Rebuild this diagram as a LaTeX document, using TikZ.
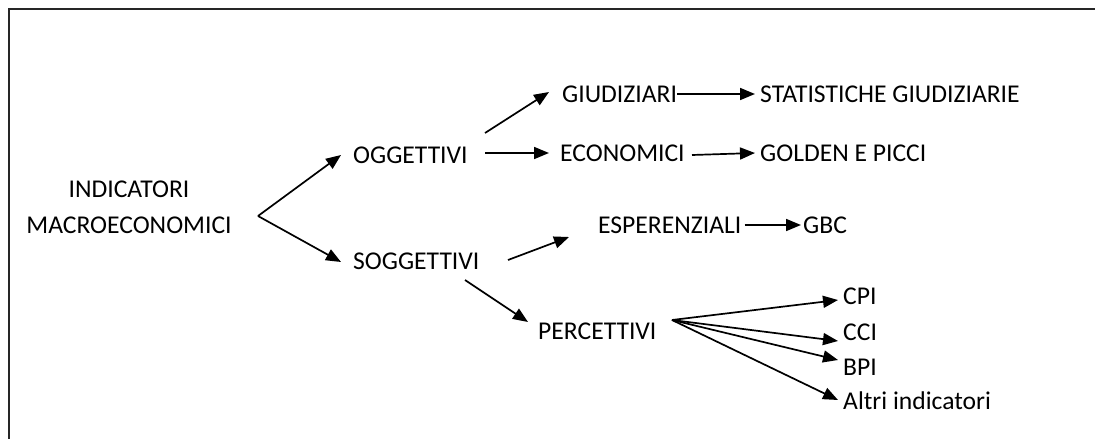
\documentclass[tikz,border=0pt]{standalone}
\usepackage{fontspec}
\setmainfont{Carlito}
\usetikzlibrary{arrows.meta,calc}
\begin{document}
\begin{tikzpicture}[x=1pt,y=-1pt,
  lab/.style={anchor=west,inner sep=0pt,font=\fontsize{25.6}{36}\selectfont},
  arr/.style={line width=1.7pt,-{Triangle[length=15pt,width=12pt]}}]
\useasboundingbox (0,0) rectangle (1095,439);
\draw[line width=1.8pt,black!85] (9,439) -- (9,9) -- (1095,9);
% nodes
\node[inner sep=0pt,align=center,font=\fontsize{25.6}{36}\selectfont] (ind) at (129,207) {INDICATORI\\MACROECONOMICI};
\node[lab] (ogg) at (353,155) {OGGETTIVI};
\node[lab] (sog) at (353,261) {SOGGETTIVI};
\node[lab] (giu) at (562,94) {GIUDIZIARI};
\node[lab] (eco) at (560,153) {ECONOMICI};
\node[lab] (stat) at (760,94) {STATISTICHE GIUDIZIARIE};
\node[lab] (gold) at (760,153) {GOLDEN E PICCI};
\node[lab] (esp) at (598,225) {ESPERENZIALI};
\node[lab] (gbc) at (803,225) {GBC};
\node[lab] (per) at (538,331) {PERCETTIVI};
\node[lab] (cpi) at (843,296) {CPI};
\node[lab] (cci) at (843,332) {CCI};
\node[lab] (bpi) at (843,367) {BPI};
\node[lab] (alt) at (843,401) {Altri indicatori};
% connector end points
\coordinate (indR) at (258,216);
\coordinate (oggT) at ($(ogg.west)+(-12,0)$);
\coordinate (sogT) at ($(sog.west)+(-12,1)$);
\coordinate (oggR1) at (485,133);
\coordinate (oggR2) at (485,153);
\coordinate (giuT) at ($(giu.west)+(-13,-2)$);
\coordinate (ecoT) at ($(eco.west)+(-11,0)$);
\coordinate (eco2) at (692,155);
\coordinate (sogR1) at (508,260);
\coordinate (sogR2) at (465,280);
\coordinate (espT) at ($(esp.west)+(-29,12)$);
\coordinate (perT) at ($(per.west)+(-10,-9)$);
\coordinate (perR) at (672,320);
% connectors
\draw[arr] (indR) -- (oggT);
\draw[arr] (indR) -- (sogT);
\draw[arr] (oggR1) -- (giuT);
\draw[arr] (oggR2) -- (ecoT);
\draw[arr] (giu.east) -- ($(stat.west)+(-5,0)$);
\draw[arr] (eco2) -- ($(gold.west)+(-5,0)$);
\draw[arr] (sogR1) -- (espT);
\draw[arr] ($(esp.east)+(3,0)$) -- ($(gbc.west)+(-2,0)$);
\draw[arr] (sogR2) -- (perT);
\draw[arr] (perR) -- ($(cpi.west)+(-5,4)$);
\draw[arr] (perR) -- ($(cci.west)+(-5,9)$);
\draw[arr] (perR) -- ($(bpi.west)+(-5,-7)$);
\draw[arr] (perR) -- ($(alt.west)+(-5,-1)$);
\end{tikzpicture}
\end{document}
